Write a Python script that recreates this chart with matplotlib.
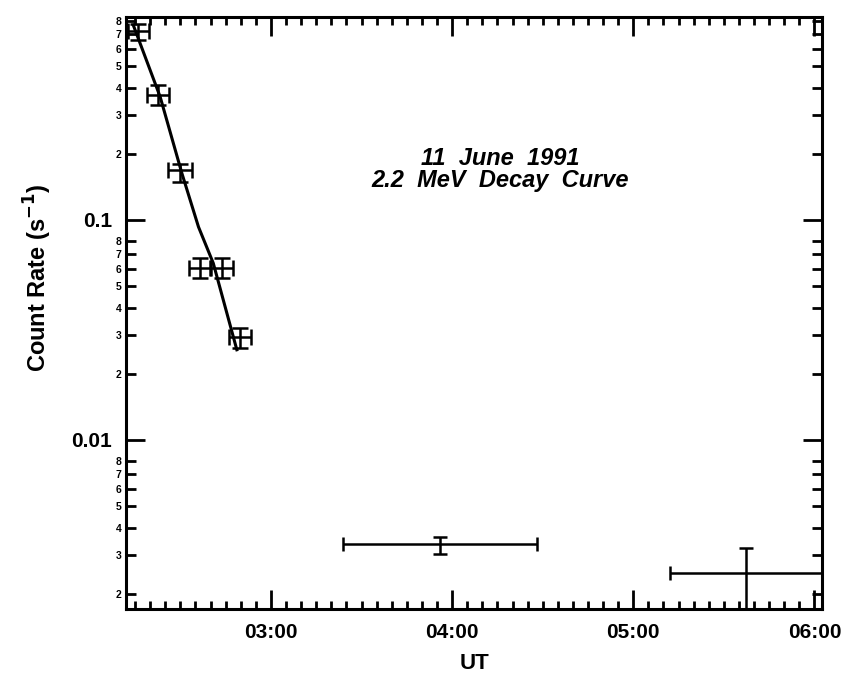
import numpy as np
import matplotlib
matplotlib.use('Agg')
import matplotlib.pyplot as plt
from matplotlib.ticker import FixedLocator, FuncFormatter

plt.rcParams['font.family'] = ['Liberation Sans', 'DejaVu Sans']

# times in minutes UT, rates in counts/s
t_min = [136.0, 142.7, 149.9, 156.5, 163.7, 169.8, 236.1, 337.2]
t_lo = [132.5, 139.1, 145.9, 152.7, 159.9, 166.2, 203.8, 312.1]
t_hi = [139.5, 146.3, 153.9, 160.3, 167.5, 173.4, 268.1, 370.0]
rate = [0.72, 0.37, 0.169, 0.0605, 0.0605, 0.0295, 0.00337, 0.00248]
rate_lo = [0.66, 0.333, 0.149, 0.0545, 0.0545, 0.0262, 0.00303, 0.0015]
rate_hi = [0.78, 0.41, 0.18, 0.067, 0.067, 0.0323, 0.00363, 0.00322]

# decay fit curve
fit_t = [134.4, 143.3, 150.5, 156.0, 160.9, 168.7]
fit_rate = [0.769, 0.363, 0.163, 0.093, 0.0636, 0.0257]

hour_labels = ['03:00', '04:00', '05:00', '06:00']

fig = plt.figure(figsize=(8.55, 6.79), dpi=100)
ax = fig.add_axes([0.1474, 0.1031, 0.8140, 0.8719])

x = np.array(t_min) / 60
xerr = [x - np.array(t_lo) / 60, np.array(t_hi) / 60 - x]
y = np.array(rate)
yerr = [y - np.array(rate_lo), np.array(rate_hi) - y]

# upper points have caps wide enough to look boxy
n = 6
ax.errorbar(x[:n], y[:n], xerr=[xerr[0][:n], xerr[1][:n]],
            yerr=[yerr[0][:n], yerr[1][:n]], fmt='none', ecolor='black',
            elinewidth=1.8, capsize=6, capthick=1.8)
ax.errorbar(x[n:], y[n:], xerr=[xerr[0][n:], xerr[1][n:]],
            yerr=[yerr[0][n:], yerr[1][n:]], fmt='none', ecolor='black',
            elinewidth=1.8, capsize=5, capthick=1.8)
ax.plot(np.array(fit_t) / 60, fit_rate, color='black', lw=2.2)

ax.set_yscale('log')
ax.set_xlim(132 / 60, 362.5 / 60)
ax.set_ylim(0.001705, 0.837)

# x ticks
ax.xaxis.set_major_locator(FixedLocator([3, 4, 5, 6]))
ax.xaxis.set_minor_locator(FixedLocator(np.arange(135, 365, 5) / 60))
ax.set_xticklabels(hour_labels)

# y ticks
ax.yaxis.set_major_locator(FixedLocator([0.01, 0.1]))
ax.yaxis.set_major_formatter(FuncFormatter(lambda v, p: '%g' % v))
minors = [m * 10.0 ** e for e in (-3, -2, -1) for m in range(2, 9)]
ax.yaxis.set_minor_locator(FixedLocator(minors))
ax.yaxis.set_minor_formatter(FuncFormatter(
    lambda v, p: str(int(round(v / 10 ** np.floor(np.log10(v) + 1e-9))))))

ax.tick_params(which='both', direction='in', top=True, right=True, width=2)
ax.tick_params(which='major', length=14, labelsize=15, pad=10)
ax.tick_params(axis='x', which='minor', length=6)
ax.tick_params(axis='y', which='minor', length=7, labelsize=7.5, pad=3)
for lab in ax.get_xticklabels() + ax.get_yticklabels(which='both'):
    lab.set_fontweight('bold')
for s in ax.spines.values():
    s.set_linewidth(2.2)

ax.set_xlabel('UT', fontsize=16, fontweight='bold', labelpad=8)
ax.set_ylabel('Count Rate (s$^{\\mathbf{-1}}$)', fontsize=17,
              fontweight='bold')
ax.yaxis.set_label_coords(-0.104, 0.56)

ax.text(0.537, 0.742, '11  June  1991\n2.2  MeV  Decay  Curve',
        transform=ax.transAxes, ha='center', va='center', fontsize=17,
        fontweight='bold', fontstyle='italic', linespacing=0.95)

fig.savefig('out.png', dpi=100)
